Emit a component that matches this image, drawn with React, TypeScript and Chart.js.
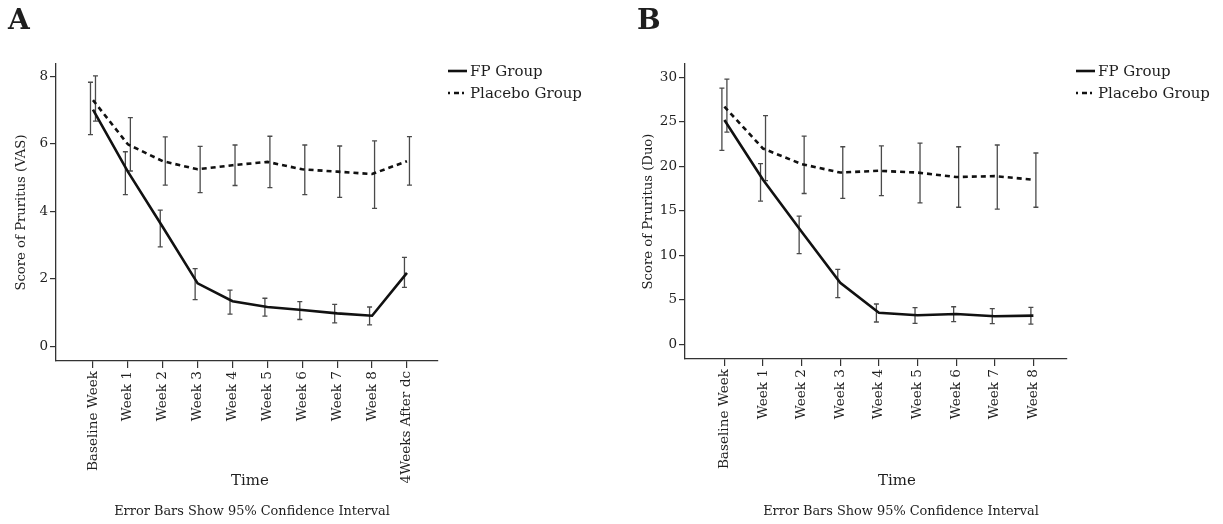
import React, { useEffect, useRef } from "react";
import { Chart, registerables } from "chart.js";

Chart.register(...registerables);

// ---------- DATA ----------
const categoriesA = ["Baseline Week", "Week 1", "Week 2", "Week 3", "Week 4", "Week 5", "Week 6", "Week 7", "Week 8", "4Weeks After dc"];
const categoriesB = ["Baseline Week", "Week 1", "Week 2", "Week 3", "Week 4", "Week 5", "Week 6", "Week 7", "Week 8"];

const yTicksA = [0, 2, 4, 6, 8];
const yTicksB = [0, 5, 10, 15, 20, 25, 30];

// Panel A: VAS
const fpVasMean = [7.01, 5.17, 3.53, 1.86, 1.33, 1.16, 1.07, 0.97, 0.9, 2.17];
const fpVasLow = [6.27, 4.49, 2.94, 1.38, 0.95, 0.89, 0.79, 0.69, 0.63, 1.74];
const fpVasHigh = [7.82, 5.76, 4.03, 2.3, 1.66, 1.42, 1.32, 1.24, 1.16, 2.63];
const plVasMean = [7.29, 5.98, 5.48, 5.24, 5.36, 5.46, 5.24, 5.17, 5.1, 5.48];
const plVasLow = [6.67, 5.19, 4.77, 4.55, 4.76, 4.7, 4.49, 4.41, 4.08, 4.77];
const plVasHigh = [8.01, 6.77, 6.2, 5.92, 5.96, 6.22, 5.96, 5.93, 6.08, 6.21];

// Panel B: Duo
const fpDuoMean = [25.2, 18.5, 12.65, 6.92, 3.55, 3.26, 3.4, 3.15, 3.22];
const fpDuoLow = [21.8, 16.1, 10.2, 5.24, 2.51, 2.36, 2.54, 2.32, 2.28];
const fpDuoHigh = [28.8, 20.3, 14.4, 8.43, 4.53, 4.12, 4.22, 4.0, 4.16];
const plDuoMean = [26.7, 22.0, 20.25, 19.3, 19.5, 19.3, 18.8, 18.9, 18.5];
const plDuoLow = [23.85, 18.4, 16.95, 16.4, 16.7, 15.9, 15.4, 15.2, 15.4];
const plDuoHigh = [29.8, 25.7, 23.4, 22.2, 22.3, 22.6, 22.2, 22.4, 21.5];

const seriesLabels = ["FP Group", "Placebo Group"];

// ---------- STYLE ----------
const FONT = "'DejaVu Serif', 'Liberation Serif', serif";
const INK = "#1e1e1e";
const AXIS = "#333";

// ---------- PLUGINS ----------
const errorBarPlugin = {
  id: "errorBars",
  beforeDatasetsDraw(chart: any, _args: any, opts: any) {
    const { ctx, scales } = chart;
    const xs = scales.x;
    const ys = scales.y;
    (opts.series || []).forEach((s: any) => {
      ctx.save();
      ctx.strokeStyle = s.color;
      ctx.lineWidth = s.width;
      ctx.setLineDash([]);
      s.low.forEach((lo: number, i: number) => {
        const px = xs.getPixelForValue(i) + s.offset;
        const yl = ys.getPixelForValue(lo);
        const yh = ys.getPixelForValue(s.high[i]);
        ctx.beginPath();
        ctx.moveTo(px, yl);
        ctx.lineTo(px, yh);
        ctx.moveTo(px - s.cap, yl);
        ctx.lineTo(px + s.cap, yl);
        ctx.moveTo(px - s.cap, yh);
        ctx.lineTo(px + s.cap, yh);
        ctx.stroke();
      });
      ctx.restore();
    });
  },
};

const lineLegendPlugin = {
  id: "lineLegend",
  afterDraw(chart: any, _args: any, opts: any) {
    const { ctx } = chart;
    chart.data.datasets.forEach((ds: any, i: number) => {
      const y = opts.y + i * opts.gap;
      ctx.save();
      ctx.strokeStyle = ds.borderColor;
      ctx.lineWidth = ds.borderWidth;
      ctx.setLineDash(ds.legendDash || []);
      ctx.beginPath();
      ctx.moveTo(opts.x, y);
      ctx.lineTo(opts.x + opts.lineLen, y);
      ctx.stroke();
      ctx.setLineDash([]);
      ctx.fillStyle = INK;
      ctx.font = opts.font;
      ctx.textAlign = "left";
      ctx.textBaseline = "middle";
      ctx.fillText(ds.label, opts.x + opts.lineLen + opts.textGap, y + 1);
      ctx.restore();
    });
  },
};

const panelTextPlugin = {
  id: "panelText",
  afterDraw(chart: any, _args: any, opts: any) {
    const { ctx } = chart;
    (opts.items || []).forEach((it: any) => {
      ctx.save();
      ctx.fillStyle = it.color || INK;
      ctx.font = it.font;
      ctx.textAlign = it.align || "center";
      ctx.textBaseline = it.baseline || "middle";
      ctx.fillText(it.text, it.x, it.y);
      ctx.restore();
    });
  },
};

// ---------- PANEL ----------
type PanelProps = {
  left: number;
  width: number;
  letter: string;
  letterX: number;
  categories: string[];
  fpMean: number[];
  fpLow: number[];
  fpHigh: number[];
  plMean: number[];
  plLow: number[];
  plHigh: number[];
  yTicks: number[];
  yMin: number;
  yMax: number;
  xMin: number;
  xMax: number;
  yTitle: string;
  yAxisWidth: number;
  yTitlePad: number;
  xAxisHeight: number;
  padRight: number;
  legendX: number;
  timeX: number;
  footX: number;
};

function Panel(p: PanelProps) {
  const ref = useRef<HTMLCanvasElement | null>(null);

  useEffect(() => {
    if (!ref.current) return;
    const toPts = (arr: number[]) => arr.map((v, i) => ({ x: i, y: v }));
    const chart = new Chart(ref.current, {
      type: "line",
      data: {
        datasets: [
          {
            label: seriesLabels[0],
            data: toPts(p.fpMean),
            borderColor: "#111",
            borderWidth: 2.6,
            pointRadius: 0,
            fill: false,
            tension: 0,
          } as any,
          {
            label: seriesLabels[1],
            data: toPts(p.plMean),
            borderColor: "#111",
            borderWidth: 2.6,
            borderDash: [5, 4],
            legendDash: [2, 4, 5, 3],
            pointRadius: 0,
            fill: false,
            tension: 0,
          } as any,
        ],
      },
      options: {
        animation: false,
        responsive: false,
        maintainAspectRatio: false,
        events: [],
        layout: { padding: { left: 0, top: 64, right: p.padRight, bottom: 0 } },
        scales: {
          x: {
            type: "linear",
            min: p.xMin,
            max: p.xMax,
            afterBuildTicks: (s: any) => {
              s.ticks = p.categories.map((_, i) => ({ value: i }));
            },
            afterFit: (s: any) => {
              s.height = p.xAxisHeight;
            },
            ticks: {
              autoSkip: false,
              minRotation: 90,
              maxRotation: 90,
              padding: 3,
              color: INK,
              font: { family: FONT, size: 13.6 },
              callback: (_v: any, i: number) => p.categories[i],
            },
            grid: {
              display: true,
              drawOnChartArea: false,
              drawTicks: true,
              tickLength: 7,
              color: AXIS,
              lineWidth: 1.2,
            },
            border: { display: true, color: AXIS, width: 1.3 },
          },
          y: {
            type: "linear",
            min: p.yMin,
            max: p.yMax,
            afterBuildTicks: (s: any) => {
              s.ticks = p.yTicks.map((v) => ({ value: v }));
            },
            afterFit: (s: any) => {
              s.width = p.yAxisWidth;
            },
            ticks: {
              color: INK,
              padding: 2,
              font: { family: FONT, size: 13.5 },
            },
            grid: {
              display: true,
              drawOnChartArea: false,
              drawTicks: true,
              tickLength: 6,
              color: AXIS,
              lineWidth: 1.2,
            },
            border: { display: true, color: AXIS, width: 1.3 },
            title: {
              display: true,
              text: p.yTitle,
              color: INK,
              font: { family: FONT, size: 13.2 },
              padding: { top: p.yTitlePad, bottom: 0 },
            },
          },
        },
        plugins: {
          legend: { display: false },
          tooltip: { enabled: false },
          errorBars: {
            series: [
              { low: p.fpLow, high: p.fpHigh, offset: -2.5, cap: 2.5, color: "#4a4a4a", width: 1.3 },
              { low: p.plLow, high: p.plHigh, offset: 2.5, cap: 2.5, color: "#4a4a4a", width: 1.3 },
            ],
          },
          lineLegend: {
            x: p.legendX,
            y: 71,
            gap: 22,
            lineLen: 19,
            textGap: 3,
            font: `15px ${FONT}`,
          },
          panelText: {
            items: [
              { text: p.letter, x: p.letterX, y: 29, font: `bold 28px ${FONT}`, align: "left", baseline: "alphabetic" },
              { text: "Time", x: p.timeX, y: 481, font: `15px ${FONT}` },
              { text: "Error Bars Show 95% Confidence Interval", x: p.footX, y: 512, font: `12.9px ${FONT}` },
            ],
          },
        } as any,
      },
      plugins: [errorBarPlugin, lineLegendPlugin, panelTextPlugin],
    } as any);
    return () => chart.destroy();
  }, []);

  return (
    <canvas
      ref={ref}
      width={p.width}
      height={524}
      style={{ position: "absolute", left: p.left, top: 0, width: p.width, height: 524 }}
    />
  );
}

export default function App() {
  return (
    <div style={{ position: "absolute", left: 0, top: 0, width: 1223, height: 524, background: "#fff", overflow: "hidden" }}>
      <Panel
        left={0}
        width={611}
        letter="A"
        letterX={8}
        categories={categoriesA}
        fpMean={fpVasMean}
        fpLow={fpVasLow}
        fpHigh={fpVasHigh}
        plMean={plVasMean}
        plLow={plVasLow}
        plHigh={plVasHigh}
        yTicks={yTicksA}
        yMin={-0.44}
        yMax={8.36}
        xMin={-1.06}
        xMax={9.89}
        yTitle="Score of Pruritus (VAS)"
        yAxisWidth={56}
        yTitlePad={14}
        xAxisHeight={163}
        padRight={173}
        legendX={448}
        timeX={250}
        footX={252}
      />
      <Panel
        left={611}
        width={612}
        letter="B"
        letterX={26}
        categories={categoriesB}
        fpMean={fpDuoMean}
        fpLow={fpDuoLow}
        fpHigh={fpDuoHigh}
        plMean={plDuoMean}
        plLow={plDuoLow}
        plHigh={plDuoHigh}
        yTicks={yTicksB}
        yMin={-1.65}
        yMax={31.5}
        xMin={-1.02}
        xMax={8.87}
        yTitle="Score of Pruritus (Duo)"
        yAxisWidth={74}
        yTitlePad={29.5}
        xAxisHeight={165}
        padRight={156}
        legendX={465}
        timeX={286}
        footX={290}
      />
    </div>
  );
}
